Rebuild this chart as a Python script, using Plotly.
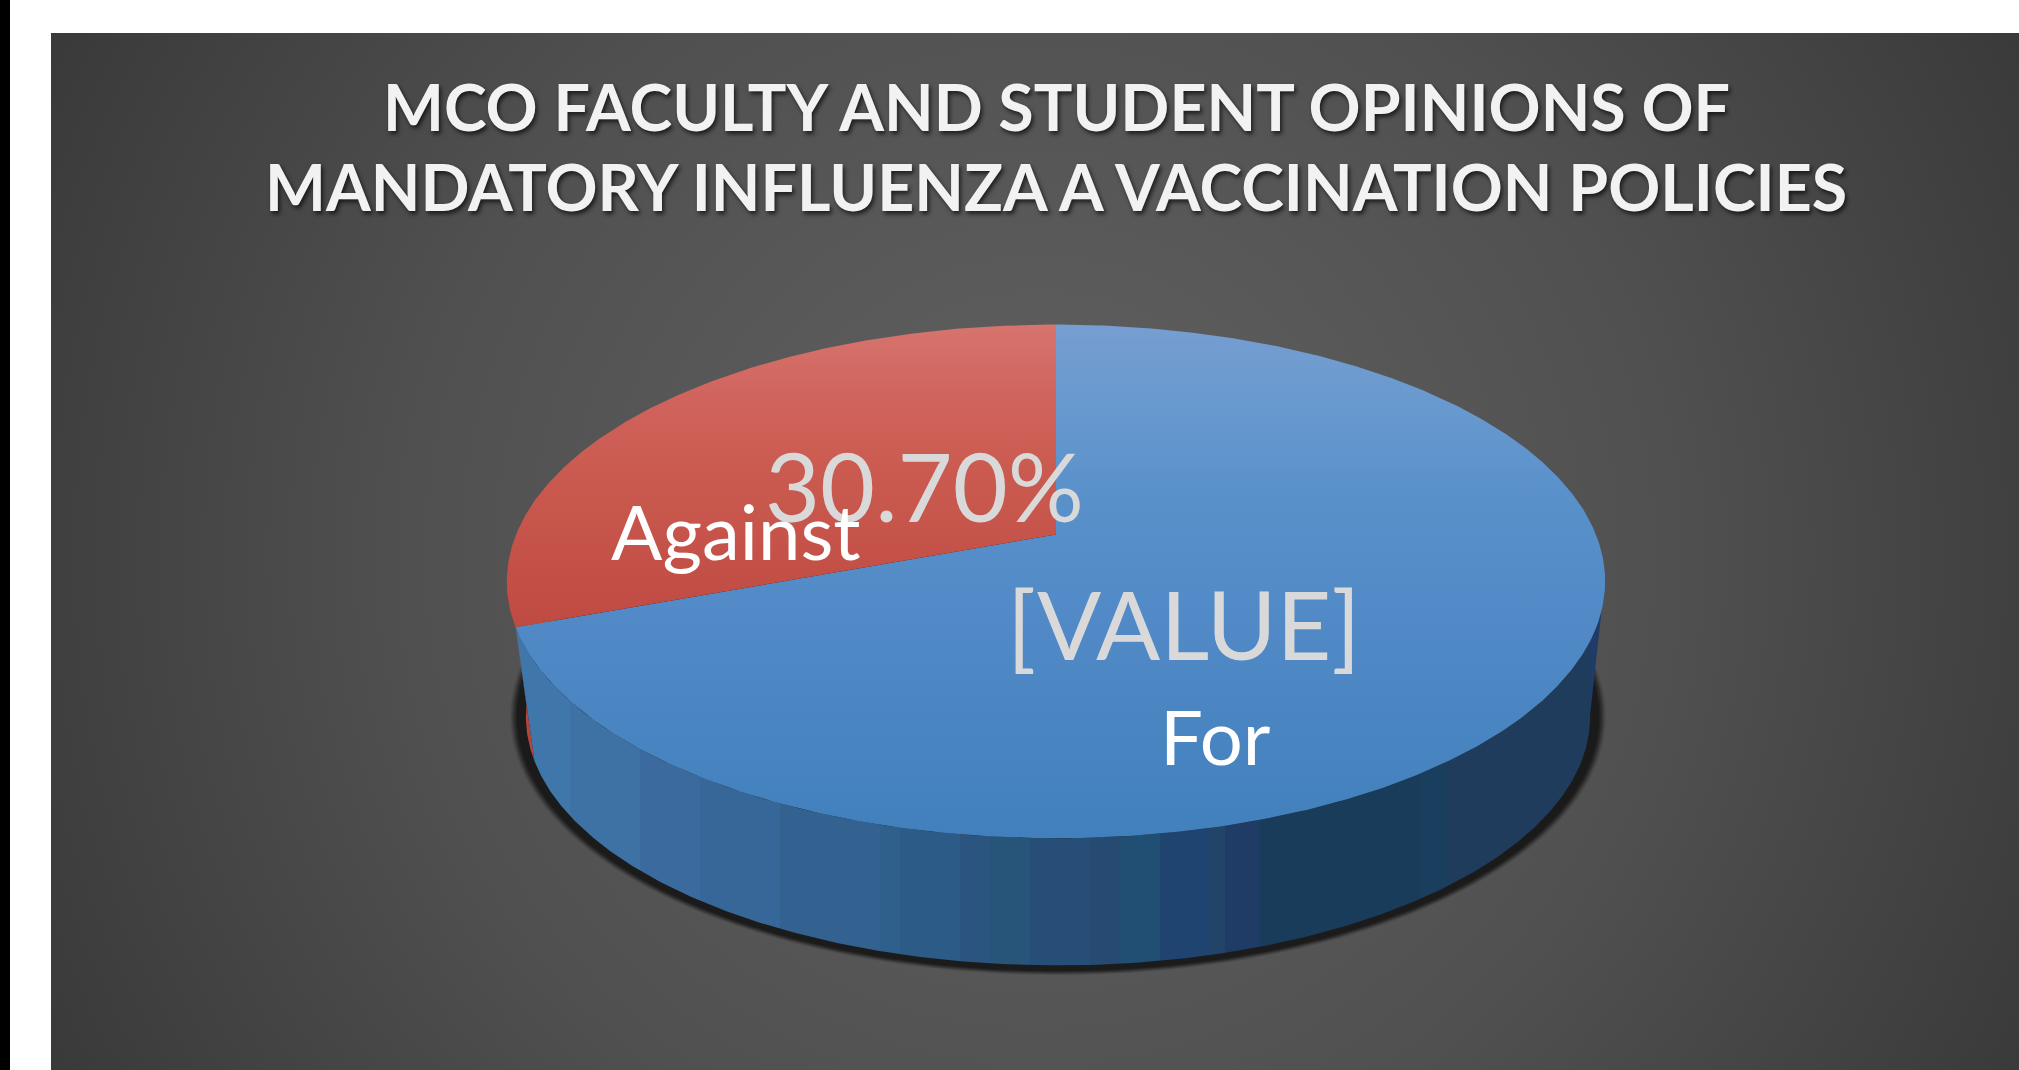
import numpy as np
import plotly.graph_objects as go

CATEGORIES = ["For", "Against"]
SHARES = [69.3, 30.7]
VALUE_LABELS = ["[VALUE]", "30.70%"]
TITLE_LINES = ["MCO FACULTY AND STUDENT OPINIONS OF", "MANDATORY INFLUENZA A VACCINATION POLICIES"]

# wall shading, as (right-hand x limit, colour)
WALL_BANDS = [(570, "#3f77aa"), (640, "#3e71a4"), (700, "#3b6b9e"), (780, "#376698"), (880, "#336291"),
              (900, "#2e608b"), (960, "#2b5b86"), (990, "#2b5580"), (1030, "#27557a"), (1090, "#264e76"),
              (1120, "#264a72"), (1160, "#214e73"), (1210, "#204470"), (1225, "#224468"), (1260, "#1f3c66"),
              (1420, "#183c5a"), (1450, "#1a3f5e"), (1590, "#203c5c"), (1620, "#1f3b66")]

CX, K, A, B = 1056, 0.183, 539.9, 248.2
TOP_Y, BOT_Y, BOT_S = 534.4, 671, 0.969
FONT = "Lato"


def project(theta, scale=1.0, cy=TOP_Y, cx=CX):
    t = np.radians(theta)
    w = 1 + K * np.cos(t)
    return cx + scale * A * np.sin(t) / w, cy - scale * B * np.cos(t) / w


def poly(x, y, **kw):
    return go.Scatter(x=list(x), y=list(y), mode="lines", fill="toself", hoverinfo="skip", showlegend=False, **kw)


split = 360 * SHARES[0] / sum(SHARES)
fig = go.Figure()

# panel
R = 1150
fig.add_trace(poly(1040 + R * np.array([-1, 1, 1, -1, -1]), 555 + R * np.array([-1, -1, 1, 1, -1]),
                   line=dict(width=0),
                   fillgradient=dict(type="radial",
                                     colorscale=[[0, "#626262"], [0.55, "#505050"], [1, "#383838"]])))
fig.add_trace(poly([0, 51, 51, 0, 0], [0, 0, 1070, 1070, 0], line=dict(width=0), fillcolor="#ffffff"))
fig.add_trace(poly([0, 2019, 2019, 0, 0], [0, 0, 33, 33, 0], line=dict(width=0), fillcolor="#ffffff"))
fig.add_trace(poly([0, 10, 10, 0, 0], [0, 0, 1070, 1070, 0], line=dict(width=0), fillcolor="#000000"))

# shadow
for grow, alpha in [(16, 0.06), (15, 0.08), (14, 0.1), (13, 0.12), (12, 0.14), (11, 0.15), (10, 0.15), (9, 0.2)]:
    th = np.linspace(0, 360, 361)
    x, y = project(th, BOT_S, BOT_Y, CX + 2)
    fig.add_trace(poly(CX + 2 + (x - CX - 2) * (1 + grow / 532), 716 + (y - 716) * (1 + 0.62 * grow / 249),
                       line=dict(width=0), fillcolor=f"rgba(0,0,0,{alpha})"))


def wall(t0, t1, **kw):
    th = np.linspace(t0, t1, int(abs(t1 - t0) * 2) + 2)
    xt, yt = project(th)
    xb, yb = project(th, BOT_S, BOT_Y, CX + 2)
    fig.add_trace(poly(np.r_[xt, xb[::-1], xt[0]], np.r_[yt, yb[::-1], yt[0]], line=dict(width=0), **kw))


# red wall, then the blue wall with hard-edged vertical bands
wall(split, 262, fillcolor="#b4443c")
x_lo, x_hi = 500, WALL_BANDS[-1][0]
stops = []
prev = x_lo
for limit, colour in WALL_BANDS:
    stops += [[(prev - x_lo) / (x_hi - x_lo), colour], [(limit - x_lo) / (x_hi - x_lo), colour]]
    prev = limit
wall(100, split, fillgradient=dict(type="horizontal", colorscale=stops, start=x_lo, stop=x_hi))

# top faces
blue = [[0, "#769ed1"], [0.18, "#6698ce"], [0.32, "#5a91cb"], [0.6, "#5089c6"], [1, "#4180bc"]]
red = [[0, "#d6746e"], [0.25, "#d0635c"], [0.5, "#ca5a4f"], [1, "#bf4a42"]]
for t0, t1, scale_c, stop in [(0, split, blue, 840), (split, 360, red, 628)]:
    th = np.linspace(t0, t1, int(t1 - t0) * 2 + 1)
    x, y = project(th)
    fig.add_trace(poly(np.r_[CX, x, CX], np.r_[TOP_Y, y, TOP_Y], line=dict(width=0),
                       fillgradient=dict(type="vertical", colorscale=scale_c, start=325, stop=stop)))


def note(text, x, y, size, colour, **kw):
    fig.add_annotation(x=x, y=y, text=text, showarrow=False, xref="x", yref="y", yanchor="bottom",
                       font=dict(family=FONT, size=size, color=colour, **kw), borderpad=0)


shadow = "2px 3px 4px rgba(0,0,0,0.65)"
note(TITLE_LINES[0], 1056, 146, 64.5, "#f2f2f2", weight="bold", shadow=shadow)
note(TITLE_LINES[1], 1056, 226, 64.5, "#f2f2f2", weight="bold", shadow=shadow)
note(VALUE_LABELS[1], 924, 543, 95, "#d9d9d9")
note(CATEGORIES[1], 736, 577, 76, "#ffffff")
note(VALUE_LABELS[0], 1184, 681, 95, "#d9d9d9")
note(CATEGORIES[0], 1215, 782, 76, "#ffffff")

fig.update_layout(width=2019, height=1070, margin=dict(l=0, r=0, t=0, b=0), autosize=False,
                  paper_bgcolor="#ffffff", plot_bgcolor="#ffffff", showlegend=False,
                  xaxis=dict(range=[0, 2019], visible=False, fixedrange=True),
                  yaxis=dict(range=[1070, 0], visible=False, fixedrange=True))
fig.write_html("out.html", post_script="document.body.style.margin='0';document.body.style.overflow='hidden';",
               config=dict(displayModeBar=False))
